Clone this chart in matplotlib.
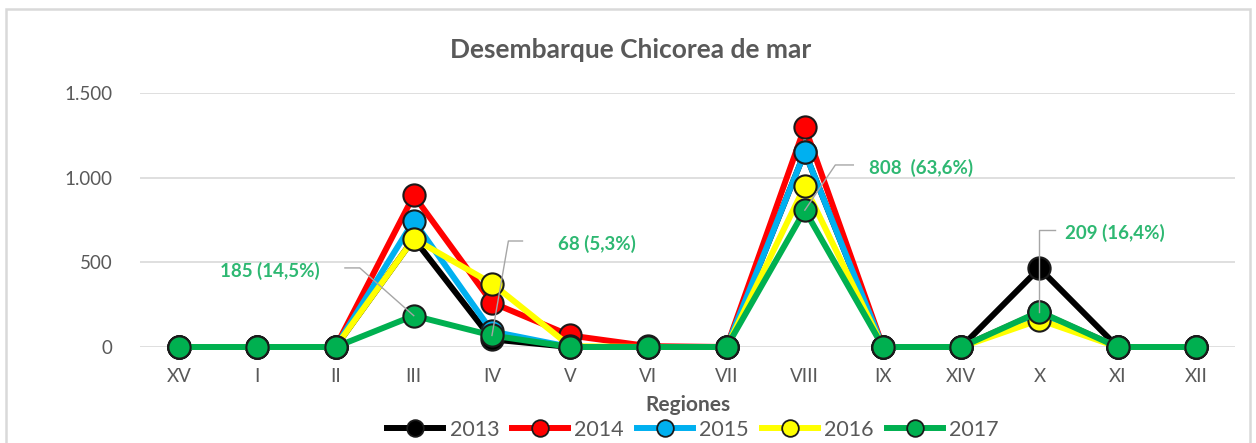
import matplotlib
matplotlib.use("Agg")
import matplotlib.pyplot as plt
from matplotlib.lines import Line2D
from matplotlib.patches import Rectangle

regions = ["XV", "I", "II", "III", "IV", "V", "VI", "VII", "VIII", "IX", "XIV", "X", "XI", "XII"]
years = ["2013", "2014", "2015", "2016", "2017"]
v2013 = [0, 0, 0, 640, 45, 0, 0, 0, 1150, 0, 0, 465, 0, 0]
v2014 = [0, 0, 0, 895, 262, 68, 5, 0, 1300, 0, 0, 205, 0, 0]
v2015 = [0, 0, 0, 745, 92, 0, 0, 0, 1150, 0, 0, 200, 0, 0]
v2016 = [0, 0, 0, 640, 375, 5, 0, 0, 950, 0, 0, 160, 0, 0]
v2017 = [0, 0, 0, 185, 68, 0, 0, 0, 808, 0, 0, 209, 0, 0]
series = [v2013, v2014, v2015, v2016, v2017]
colors = ["#000000", "#FF0000", "#00B0F0", "#FFFF00", "#00B050"]
ann_labels = ["185 (14,5%)", "68 (5,3%)", "808  (63,6%)", "209 (16,4%)"]
ann_idx = [3, 4, 8, 11]
yticks = [0, 500, 1000, 1500]
ytick_labels = ["0", "500", "1.000", "1.500"]

plt.rcParams['font.family'] = ['Lato', 'DejaVu Sans']

W, H = 1256, 443
fig = plt.figure(figsize=(W / 100, H / 100), dpi=100)
fig.patches.append(Rectangle((6 / W, -0.05), (W - 12) / W, (H - 9) / H + 0.05, transform=fig.transFigure,
                             fill=False, edgecolor="#d9d9d9", linewidth=1.8))

ax = fig.add_axes([140 / W, (H - 347) / H, (1235 - 140) / W, (347 - 93) / H])
x = list(range(len(regions)))
for vals, c, yr in zip(series, colors, years):
    ax.plot(x, vals, color=c, linewidth=4.3, marker="o", markersize=16,
            markerfacecolor=c, markeredgecolor="#1a1a1a", markeredgewidth=1.5,
            clip_on=False, zorder=3, label=yr)

ax.set_xlim(-0.5, len(regions) - 0.5)
ax.set_ylim(0, 1500)
ax.set_yticks(yticks)
ax.set_yticklabels(ytick_labels)
ax.set_xticks(x)
ax.set_xticklabels(regions)
ax.grid(axis="y", color="#d9d9d9", linewidth=1.2, zorder=0)
for s in ax.spines.values():
    s.set_visible(False)
ax.tick_params(axis="both", length=0, labelsize=13.5, colors="#595959")
ax.tick_params(axis="x", pad=15)
ax.tick_params(axis="y", pad=20)
ax.set_xlabel("Regiones", fontsize=15, fontweight="bold", color="#595959", labelpad=7)

fig.text(631 / W, 1 - 50 / H, "Desembarque Chicorea de mar", ha="center", va="center",
         fontsize=19, color="#595959", fontweight="bold")

# annotations
green = "#2EB872"
ann_text_pos = [(0.52, 449), (4.85, 608), (8.82, 1057), (11.33, 673)]
ann_elbow = [[(2.12, 467), (2.31, 467)], [(4.39, 626), (4.21, 626)],
             [(8.62, 1075), (8.39, 1075)], [(11.2, 691), (11.0, 691)]]
for lab, i, tp, el in zip(ann_labels, ann_idx, ann_text_pos, ann_elbow):
    target = (i, series[4][i])
    xs = [el[0][0], el[1][0], target[0]]
    ys = [el[0][1], el[1][1], target[1]]
    ax.plot(xs, ys, color="#a6a6a6", linewidth=1.0, zorder=5, clip_on=False)
    ax.text(tp[0], tp[1], lab, color=green, fontsize=13.5, fontweight="bold",
            ha="left", va="center", zorder=6)

handles = [Line2D([0], [0], color=c, linewidth=4.3, marker="o", markersize=12,
                  markerfacecolor=c, markeredgecolor="#1a1a1a", markeredgewidth=1.3)
           for c in colors]
leg = fig.legend(handles, years, loc="center", bbox_to_anchor=(693 / W, 1 - 430 / H),
                 ncol=5, frameon=False, fontsize=15.5, handlelength=2.6,
                 columnspacing=0.6, handletextpad=0.3, borderaxespad=0)
for t in leg.get_texts():
    t.set_color("#595959")

fig.savefig("out.png", dpi=100)
